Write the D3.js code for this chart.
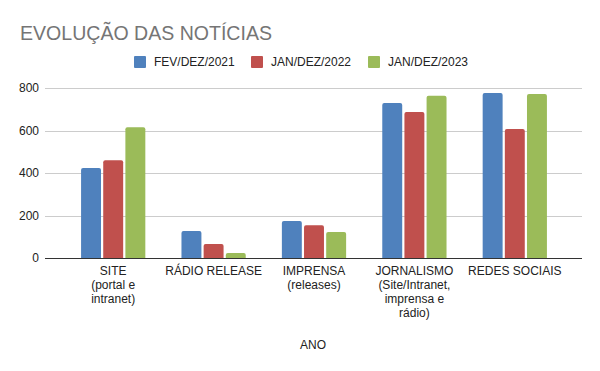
<!DOCTYPE html>
<html>
<head>
<meta charset="utf-8">
<script src="https://cdn.jsdelivr.net/npm/d3@7"></script>
<style>
  body { margin: 0; background: #fff; }
  text { font-family: Arial, "Liberation Sans", sans-serif; }
</style>
</head>
<body>
<div id="chart"></div>
<script>
// data
const categories = [
  ["SITE", "(portal e", "intranet)"],
  ["RÁDIO RELEASE"],
  ["IMPRENSA", "(releases)"],
  ["JORNALISMO", "(Site/Intranet,", "imprensa e", "rádio)"],
  ["REDES SOCIAIS"]
];
const seriesNames = ["FEV/DEZ/2021", "JAN/DEZ/2022", "JAN/DEZ/2023"];
const seriesColors = ["#4f81bd", "#c0504d", "#9bbb59"];
const values2021 = [424, 128, 175, 729, 776];
const values2022 = [461, 67, 155, 687, 607];
const values2023 = [616, 25, 124, 764, 772];
const yTicks = [0, 200, 400, 600, 800];

const W = 600, H = 371;
const svg = d3.select("#chart").append("svg")
  .attr("width", W).attr("height", H);

svg.append("rect").attr("width", W).attr("height", H).attr("fill", "#fff");

// title
svg.append("text")
  .attr("x", 20).attr("y", 39.5)
  .attr("font-size", 21)
  .attr("fill", "#757575")
  .attr("textLength", 252)
  .attr("lengthAdjust", "spacingAndGlyphs")
  .text("EVOLUÇÃO DAS NOTÍCIAS");

// legend
let legendX = [134, 251, 368];
seriesNames.forEach((name, i) => {
  svg.append("rect")
    .attr("x", legendX[i]).attr("y", 56)
    .attr("width", 12).attr("height", 12)
    .attr("rx", 1)
    .attr("fill", seriesColors[i]);
  svg.append("text")
    .attr("x", legendX[i] + 20).attr("y", 66)
    .attr("font-size", 12)
    .attr("fill", "#222")
    .text(name);
});

// scales
const gridLeft = 45, gridRight = 582;
const y = d3.scaleLinear().domain([0, 800]).range([258.3, 88]);
const x0 = d3.scaleBand()
  .domain(d3.range(categories.length))
  .range([63, 565])
  .paddingInner(0.36)
  .paddingOuter(0.18);
const x1 = d3.scaleBand()
  .domain(d3.range(seriesNames.length))
  .range([0, x0.bandwidth()])
  .paddingInner(0.1);

// gridlines
svg.append("g").selectAll("line")
  .data(yTicks.filter(d => d > 0))
  .join("line")
  .attr("x1", gridLeft).attr("x2", gridRight)
  .attr("y1", d => Math.round(y(d)) + 0.5)
  .attr("y2", d => Math.round(y(d)) + 0.5)
  .attr("stroke", "#cccccc");

// y axis labels
svg.append("g").selectAll("text")
  .data(yTicks)
  .join("text")
  .attr("x", 39)
  .attr("y", d => y(d) + 4)
  .attr("text-anchor", "end")
  .attr("font-size", 12)
  .attr("fill", "#222")
  .text(d => d);

// bars
const allSeries = [values2021, values2022, values2023];
const bars = svg.append("g");
categories.forEach((c, ci) => {
  allSeries.forEach((vals, si) => {
    let v = vals[ci];
    let bx = x0(ci) + x1(si);
    let top = y(v);
    let h = y(0) - top;
    let r = Math.min(2, h / 2);
    // rounded top corners only
    bars.append("path")
      .attr("d", `M${bx},${y(0)} V${top + r} Q${bx},${top} ${bx + r},${top} ` +
                 `H${bx + x1.bandwidth() - r} Q${bx + x1.bandwidth()},${top} ${bx + x1.bandwidth()},${top + r} ` +
                 `V${y(0)} Z`)
      .attr("fill", seriesColors[si]);
  });
});

// baseline
svg.append("line")
  .attr("x1", gridLeft).attr("x2", gridRight)
  .attr("y1", 258.5).attr("y2", 258.5)
  .attr("stroke", "#333").attr("stroke-width", 1);

// x labels
categories.forEach((lines, ci) => {
  let t = svg.append("text")
    .attr("text-anchor", "middle")
    .attr("font-size", 12)
    .attr("fill", "#222");
  lines.forEach((ln, li) => {
    t.append("tspan")
      .attr("x", x0(ci) + x0.bandwidth() / 2)
      .attr("y", 275 + li * 14)
      .text(ln);
  });
});

// axis title
svg.append("text")
  .attr("x", 313).attr("y", 349)
  .attr("text-anchor", "middle")
  .attr("font-size", 12)
  .attr("fill", "#222")
  .text("ANO");
</script>
</body>
</html>
